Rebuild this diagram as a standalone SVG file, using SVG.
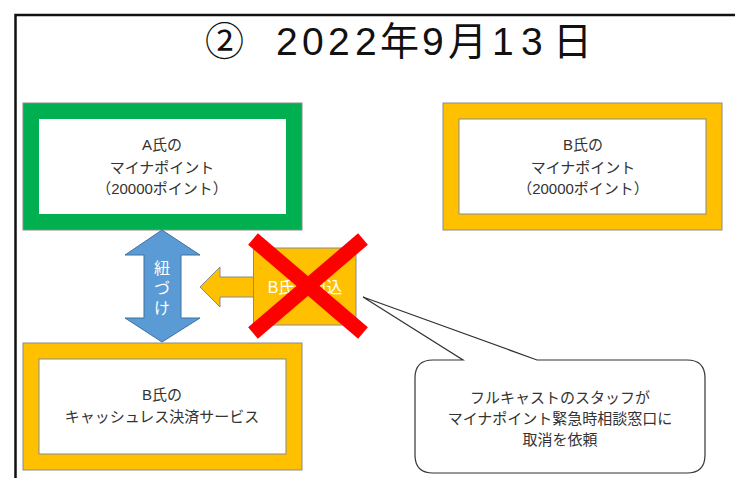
<svg xmlns="http://www.w3.org/2000/svg" width="735" height="478" viewBox="0 0 735 478">
<style>
  .t { font-family: "Liberation Sans", "Noto Sans CJK JP", sans-serif; }
  .lbl { font-size: 15px; fill: #333; text-anchor: middle; }
  .frameG { fill: #fff; stroke: #00B050; stroke-width: 16; }
  .frameO { fill: #fff; stroke: #FFC000; stroke-width: 16; }
  .edge { fill: none; stroke: #8A8A8A; stroke-width: 1; }
  .wt { fill: #fff; font-size: 16px; text-anchor: middle; }
</style>
<rect width="735" height="478" fill="#fff"/>
<path d="M15.5 478 V15 H735" fill="none" stroke="#111" stroke-width="2.5"/>
<text class="t" x="205 245 276 302 328 355 380 422 448 492 521 553" y="55" font-size="39" fill="#111">② 2022年9月13日</text>

<g id="nodeA">
  <rect class="frameG" x="31" y="111" width="263" height="111"/>
  <rect class="edge" x="23" y="103" width="279" height="127" stroke="#6F8F7F"/>
  <text class="t lbl" x="162" y="150">A氏の</text>
  <text class="t lbl" x="162" y="173">マイナポイント</text>
  <text class="t lbl" x="162" y="194">（20000ポイント）</text>
</g>
<g id="nodeB">
  <rect class="frameO" x="451" y="111" width="263" height="111"/>
  <rect class="edge" x="443" y="103" width="279" height="127"/>
  <rect class="edge" x="459" y="119" width="247" height="95"/>
  <text class="t lbl" x="583" y="150">B氏の</text>
  <text class="t lbl" x="583" y="173">マイナポイント</text>
  <text class="t lbl" x="583" y="194">（20000ポイント）</text>
</g>
<g id="nodeC">
  <rect class="frameO" x="31" y="351" width="263" height="111"/>
  <rect class="edge" x="23" y="343" width="279" height="127"/>
  <rect class="edge" x="39" y="359" width="247" height="95"/>
  <text class="t lbl" x="162" y="400">B氏の</text>
  <text class="t lbl" x="162" y="422">キャッシュレス決済サービス</text>
</g>

<g id="connectors">
  <g id="link">
    <polygon points="162,230 200,255 181,255 181,318 200,318 162,342 125,318 144,318 144,255 125,255" fill="#5B9BD5" stroke="#41719C" stroke-width="1"/>
    <text class="t wt" x="162" y="274">紐</text>
    <text class="t wt" x="162" y="294">づ</text>
    <text class="t wt" x="162" y="314">け</text>
  </g>
  <g id="apply">
    <polygon points="200,287 220,267 220,277 254,277 254,297 220,297 220,307" fill="#FFC000" stroke="#8A8A8A" stroke-width="1"/>
    <rect x="253.5" y="248" width="102.5" height="77" fill="#FFC000" stroke="#8A8A8A" stroke-width="1"/>
    <text class="t wt" x="305" y="293">B氏の申込</text>
  </g>
  <g id="cross" stroke="#FF0000" stroke-width="15">
    <line x1="253" y1="239" x2="363" y2="333"/>
    <line x1="363" y1="239" x2="253" y2="333"/>
  </g>
</g>

<g id="callout">
  <path d="M433 360 H463 L363 297 L537 360 H687 Q705 360 705 378 V455 Q705 473 687 473 H433 Q415 473 415 455 V378 Q415 360 433 360 Z" fill="#fff" stroke="#333" stroke-width="1.2"/>
  <text class="t lbl" x="560" y="403" font-size="15.5">フルキャストのスタッフが</text>
  <text class="t lbl" x="560" y="424" font-size="15.5">マイナポイント緊急時相談窓口に</text>
  <text class="t lbl" x="560" y="445" font-size="15.5">取消を依頼</text>
</g>
</svg>
